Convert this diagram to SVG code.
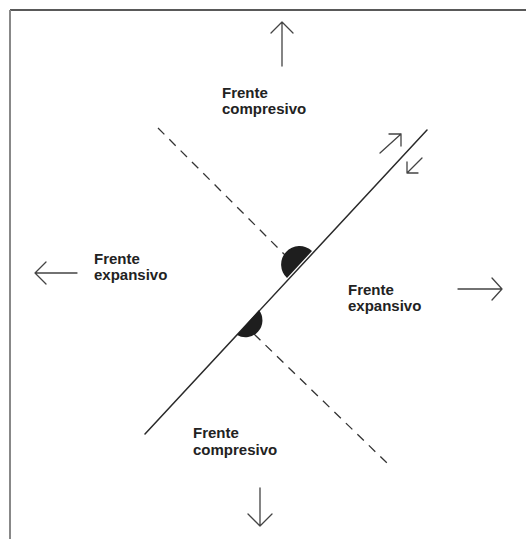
<svg xmlns="http://www.w3.org/2000/svg" width="526" height="539" viewBox="0 0 526 539">
<style>
.ln{stroke:#2a2a2a;stroke-width:1.5;fill:none;stroke-linecap:round;stroke-linejoin:round}
.ar{stroke:#444;stroke-width:1.3;fill:none;stroke-linecap:round;stroke-linejoin:round}
.dash{stroke:#333;stroke-width:1.3;fill:none;stroke-dasharray:9 7}
.lbl{font-family:"Liberation Sans",Arial,sans-serif;font-weight:bold;font-size:15px;fill:#222}
.half{fill:#1e1e1e}
</style>
<rect width="526" height="539" fill="#fff"/>
<g id="frame">
<line x1="10" y1="10" x2="526" y2="10" stroke="#222" stroke-width="1.5"/>
<line x1="10" y1="10" x2="10" y2="539" stroke="#888" stroke-width="2"/>
</g>
<g id="connectors">
<line class="ln" x1="145" y1="434" x2="427" y2="130"/>
<line class="dash" x1="158" y1="128" x2="290" y2="260"/>
<line class="dash" x1="254" y1="334" x2="387" y2="463"/>
<path class="ar" d="M282 22 V66 M271 33 L282 22 L293 33"/>
<path class="ar" d="M260 488 V526 M248 514 L260 526 L272 514"/>
<path class="ar" d="M35 273 H77 M46 262 L35 273 L46 284"/>
<path class="ar" d="M458 289 H502 M492 278 L502 289 L492 300"/>
<path class="ar" d="M380 153 L401 134 M389 134 H401 V146"/>
<path class="ar" d="M422 158 L407 173 M407 162 V173 H418"/>
</g>
<g id="discs">
<path class="half" d="M287 278 A18 18 0 0 1 312 251 Z"/>
<path class="half" d="M259 310 A17 17 0 0 1 237 335 Z"/>
</g>
<g id="label-top"><text class="lbl" x="222" y="98">Frente</text><text class="lbl" x="222" y="114">compresivo</text></g>
<g id="label-left"><text class="lbl" x="94" y="264">Frente</text><text class="lbl" x="94" y="280">expansivo</text></g>
<g id="label-right"><text class="lbl" x="348" y="295">Frente</text><text class="lbl" x="348" y="311">expansivo</text></g>
<g id="label-bottom"><text class="lbl" x="193" y="438">Frente</text><text class="lbl" x="193" y="455">compresivo</text></g>
</svg>
